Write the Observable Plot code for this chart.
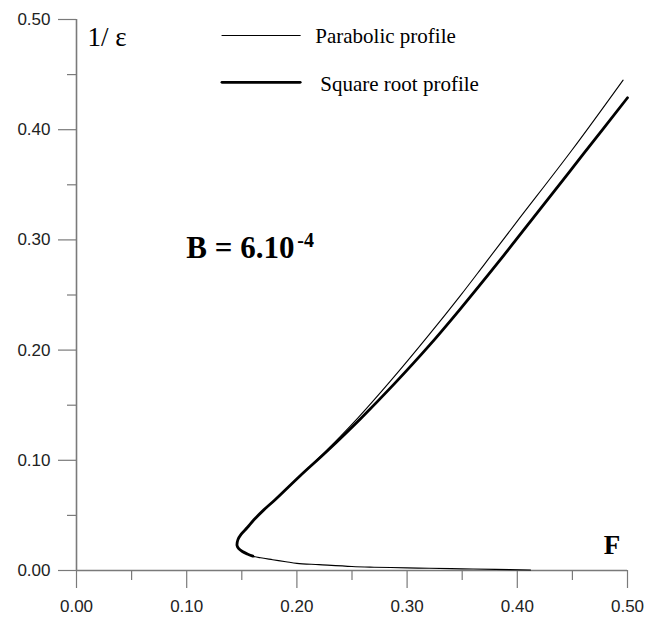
<!DOCTYPE html>
<html>
<head>
<meta charset="utf-8">
<script src="https://cdn.jsdelivr.net/npm/d3@7"></script>
<script src="https://cdn.jsdelivr.net/npm/@observablehq/plot@0.6"></script>
<style>
  html, body { margin: 0; padding: 0; background: #fff; }
  #chart svg { display: block; }
</style>
</head>
<body>
<div id="chart"></div>
<script>
// Lower branch (shared by both profiles), traced from right end to turning point
const lowerF = [0.412, 0.38, 0.35, 0.32, 0.30, 0.27, 0.25, 0.22, 0.20, 0.19, 0.178, 0.167, 0.160, 0.155, 0.1505, 0.147, 0.1457];
const lowerE = [0.0005, 0.0010, 0.0015, 0.0020, 0.0024, 0.0030, 0.0036, 0.0053, 0.0065, 0.0080, 0.0098, 0.0115, 0.0130, 0.0150, 0.0172, 0.0200, 0.0226];

// Upper branch, parabolic profile
const parabF = [0.1465, 0.1495, 0.155, 0.161, 0.170, 0.180, 0.203, 0.227, 0.255, 0.285, 0.32, 0.348, 0.371, 0.40, 0.45, 0.496];
const parabE = [0.028, 0.033, 0.039, 0.046, 0.055, 0.064, 0.086, 0.109, 0.138, 0.172, 0.214, 0.249, 0.279, 0.317, 0.382, 0.445];

// Upper branch, square root profile
const sqrtF = [0.1465, 0.1495, 0.155, 0.161, 0.170, 0.180, 0.203, 0.227, 0.258, 0.289, 0.32, 0.348, 0.383, 0.42, 0.46, 0.50];
const sqrtE = [0.028, 0.033, 0.039, 0.046, 0.055, 0.064, 0.086, 0.108, 0.138, 0.170, 0.204, 0.237, 0.280, 0.327, 0.378, 0.429];

// Axis ticks
const xMajor = [0, 0.1, 0.2, 0.3, 0.4, 0.5];
const xMinor = [0.05, 0.15, 0.25, 0.35, 0.45];
const yMajor = [0, 0.1, 0.2, 0.3, 0.4, 0.5];
const yMinor = [0.05, 0.15, 0.25, 0.35, 0.45];

// Legend & annotation anchors (data space)
const legendNames = ["Parabolic profile", "Square root profile"];
const legendLineF = [0.132, 0.203];
const legendTextF = [0.2167, 0.2212];
const legendE = [0.4855, 0.443];
const legendTextE = [0.4846, 0.441];

const parabolic = lowerF.map((f, i) => ({F: f, E: lowerE[i]}))
  .concat(parabF.map((f, i) => ({F: f, E: parabE[i]})));
// thick stroke starts just before the turning point
const sqrtStart = 12;
const squareRoot = lowerF.slice(sqrtStart).map((f, i) => ({F: f, E: lowerE[i + sqrtStart]}))
  .concat(sqrtF.map((f, i) => ({F: f, E: sqrtE[i]})));

const legThin = legendLineF.map(f => ({F: f, E: legendE[0]}));
const legThick = legendLineF.map(f => ({F: f, E: legendE[1]}));

const fmt = d => d.toFixed(2);
const serif = "'Liberation Serif', 'Times New Roman', serif";
const axisGray = "#7a7a7a";

const chart = Plot.plot({
  width: 656,
  height: 618,
  marginLeft: 76,
  marginRight: 29,
  marginTop: 19,
  marginBottom: 48,
  x: {domain: [0, 0.5]},
  y: {domain: [0, 0.5]},
  style: {fontFamily: "'Liberation Sans', Arial, sans-serif", background: "#fff"},
  marks: [
    Plot.axisX(xMinor, {tickSize: 10, tickFormat: () => "", stroke: axisGray, strokeWidth: 1.2, label: null}),
    Plot.axisX(xMajor, {tickSize: 18, tickPadding: 11, tickFormat: fmt, fontSize: 17, stroke: axisGray, fill: "#222", strokeWidth: 1.2, label: null}),
    Plot.axisY(yMinor, {tickSize: 9, tickFormat: () => "", stroke: axisGray, strokeWidth: 1.2, label: null}),
    Plot.axisY(yMajor, {tickSize: 18, tickPadding: 8, tickFormat: fmt, fontSize: 17, stroke: axisGray, fill: "#222", strokeWidth: 1.2, label: null}),
    Plot.ruleY([0], {stroke: axisGray, strokeWidth: 1.6}),
    Plot.ruleX([0], {stroke: axisGray, strokeWidth: 1.6}),
    Plot.line(parabolic, {x: "F", y: "E", stroke: "#000", strokeWidth: 1.1, curve: "catmull-rom"}),
    Plot.line(squareRoot, {x: "F", y: "E", stroke: "#000", strokeWidth: 2.8, curve: "catmull-rom", strokeLinecap: "round"}),
    Plot.line(legThin, {x: "F", y: "E", stroke: "#000", strokeWidth: 1.1}),
    Plot.line(legThick, {x: "F", y: "E", stroke: "#000", strokeWidth: 2.8}),
    Plot.text(legendNames, {x: (d, i) => legendTextF[i], y: (d, i) => legendTextE[i], text: d => d,
      textAnchor: "start", fontSize: 21, fontFamily: serif, fill: "#000"}),
    Plot.text(["1/ ε"], {x: [0.01], y: [0.484], text: d => d, textAnchor: "start", fontSize: 27, fontFamily: serif, fill: "#000"}),
    Plot.text(["B = 6.10"], {x: [0.0997], y: [0.293], text: d => d, textAnchor: "start", fontSize: 31, fontWeight: "bold", fontFamily: serif, fill: "#000"}),
    Plot.text(["-4"], {x: [0.2004], y: [0.299], text: d => d, textAnchor: "start", fontSize: 20, fontWeight: "bold", fontFamily: serif, fill: "#000"}),
    Plot.text(["F"], {x: [0.486], y: [0.023], text: d => d, textAnchor: "middle", fontSize: 27, fontWeight: "bold", fontFamily: serif, fill: "#000"})
  ]
});
document.getElementById("chart").appendChild(chart);
</script>
</body>
</html>
